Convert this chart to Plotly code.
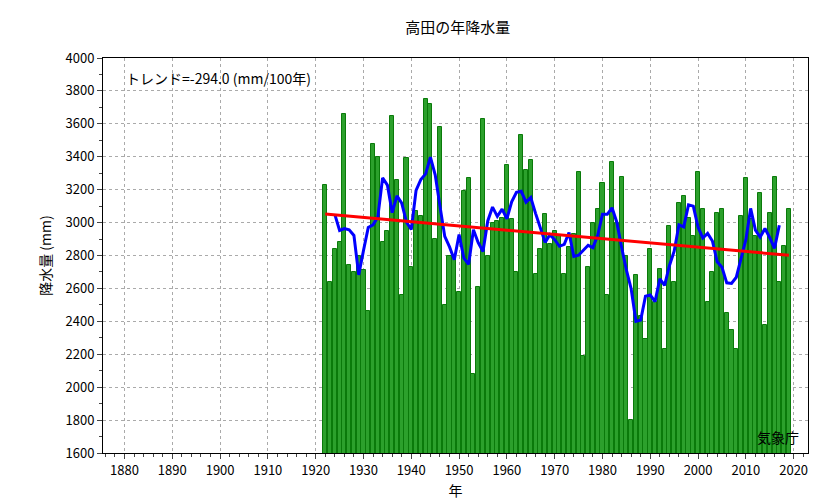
import numpy as np
import pandas as pd
import plotly.graph_objects as go

years = list(range(1922, 2020))
precip = [3230, 2640, 2840, 2880, 3660, 2740, 2700, 2800, 2710, 2460,
          3480, 3400, 2880, 2950, 3650, 3260, 2560, 3390, 2730, 3070,
          3040, 3750, 3720, 2900, 3580, 2500, 2800, 2800, 2580, 3190,
          3270, 2080, 2610, 3630, 2800, 3000, 3010, 3030, 3350, 3020,
          2700, 3530, 3320, 3380, 2690, 2840, 3050, 2870, 2950, 2920,
          2690, 2850, 2930, 3310, 2190, 2730, 3000, 3080, 3240, 2560,
          3370, 3000, 3280, 2800, 1800, 2680, 2430, 2290, 2840, 2520,
          2720, 2230, 2980, 2640, 3120, 3160, 3030, 2920, 3310, 3080,
          2520, 2700, 3060, 3080, 2450, 2350, 2230, 3040, 3270, 3020,
          2920, 3180, 2380, 3060, 3280, 2640, 2860, 3080]
trend_label = "トレンド=-294.0 (mm/100年)"

s = pd.Series(precip, index=years)
ma5 = s.rolling(5, center=True).mean()
coef = np.polyfit(years, precip, 1)
trend = np.polyval(coef, years)

font = "Noto Sans CJK JP"
fig = go.Figure()
fig.add_bar(x=years, y=precip, width=0.85,
            marker=dict(color="#2ca02c", line=dict(color="#0a7a0a", width=1)))
fig.add_scatter(x=years, y=ma5, mode="lines", line=dict(color="blue", width=3))
fig.add_scatter(x=[years[0], years[-1]], y=[trend[0], trend[-1]], mode="lines",
                line=dict(color="red", width=3))

fig.update_layout(
    width=833, height=498, showlegend=False, plot_bgcolor="white",
    margin=dict(l=95, r=33, t=50, b=53),
    font=dict(family=font, size=13, color="black"),
    title=dict(text="高田の年降水量", x=0.54, y=0.97, font=dict(size=15)),
    bargap=0,
)
fig.update_xaxes(range=[1875.5, 2023], dtick=10, tick0=1880, ticks="outside",
                 automargin=False,
                 showgrid=True, gridcolor="#aaaaaa", griddash="dot",
                 showline=True, linecolor="black", mirror=True,
                 minor=dict(dtick=2, ticks="outside", ticklen=3),
                 title=dict(text="年", standoff=8, font=dict(size=14)))
fig.update_yaxes(range=[1600, 4000], dtick=200, ticks="outside",
                 automargin=False,
                 showgrid=True, gridcolor="#aaaaaa", griddash="dot",
                 showline=True, linecolor="black", mirror=True,
                 minor=dict(dtick=100, ticks="outside", ticklen=3),
                 title=dict(text="降水量 (mm)", standoff=10, font=dict(size=14)))
fig.add_annotation(text=trend_label, xref="paper", yref="paper",
                   x=0.03, y=0.98, xanchor="left", yanchor="top", showarrow=False,
                   font=dict(size=14))
fig.add_annotation(text="気象庁", xref="paper", yref="paper", x=0.99, y=0.01,
                   xanchor="right", yanchor="bottom", showarrow=False, font=dict(size=14))
fig.write_html("out.html")
